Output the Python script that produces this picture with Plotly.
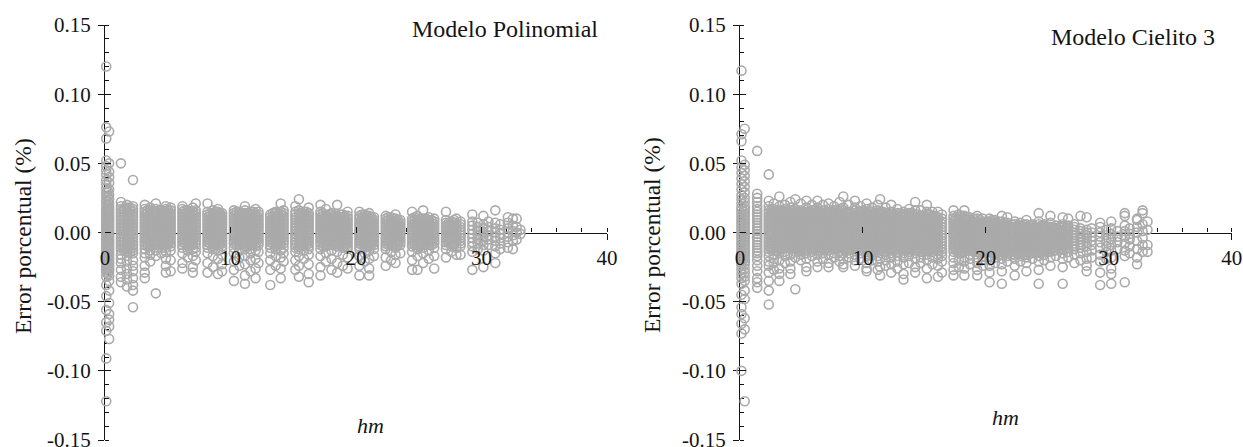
import plotly.graph_objects as go

# Percentage error of each sample, grouped in columns along hm.
# Error values are written in thousandths of a percent.
ERR_UNIT = 0.001

hm_poli = [0.1, 0.33, 1.27, 1.75, 2.23, 3.17, 3.6, 4.05, 4.5, 4.85, 5.23, 6.17, 6.6, 7.0, 7.23,
           8.17, 8.6, 9.0, 9.33, 10.27, 10.7, 11.15, 11.6, 12.0, 12.23, 13.17, 13.6, 14.0, 14.23,
           15.17, 15.45, 15.85, 16.23, 17.17, 17.6, 18.05, 18.5, 18.95, 19.33, 20.27, 20.7, 21.05,
           21.43, 22.37, 22.8, 23.15, 23.53, 24.47, 24.9, 25.35, 25.8, 26.23, 27.17, 27.6, 28.0,
           28.33, 29.27, 29.7, 30.15, 30.55, 31.1, 31.5, 32.1, 32.5, 32.8, 33.1,
           0.22, 1.5, 2.0, 3.38, 3.83, 4.28, 4.68, 5.04, 6.38, 6.8, 8.38, 8.8, 9.17, 10.48, 10.92,
           11.38, 11.8, 13.38, 13.8, 15.65, 16.04, 17.38, 17.82, 18.27, 18.72, 19.14, 20.48, 20.88,
           21.24, 22.58, 22.98, 23.34, 24.68, 25.12, 25.58, 26.02, 27.38, 27.8]

err_poli = [
    [120, 76, 68, 52, 48, 45, 42, 38, 35, 32, 29, 26, 23, 20, 17, 15, 13, 11, 9, 7, 5, 3, 1, -1, -3, -5, -7, -9, -11, -13, -15, -17, -19, -21, -23, -25, -27, -29, -32, -38, -46, -56, -65, -71, -91, -122],
    [73, 50, 44, 40, 36, 31, 27, 24, 21, 18, 16, 14, 12, 10, 8, 6, 4, 2, 0, -2, -4, -6, -8, -10, -12, -14, -16, -18, -20, -22, -24, -26, -28, -31, -35, -42, -51, -59, -63, -68, -77],
    [50, 22, 19, 17, 15, 13, 11, 9, 7, 5, 3, 1, -1, -3, -5, -7, -9, -11, -13, -16, -19, -22, -27, -32, -36],
    [20, 18, 16, 14, 12, 10, 8, 6, 4, 2, 0, -2, -4, -6, -8, -10, -12, -14, -17, -21, -26, -30, -34, -39],
    [38, 19, 17, 15, 13, 11, 9, 7, 5, 3, 1, -1, -3, -5, -7, -9, -11, -13, -15, -20, -24, -28, -33, -38, -42, -54],
    [20, 17, 15, 13, 11, 9, 7, 5, 3, 1, -1, -3, -5, -7, -9, -12, -15, -18, -24, -29, -33],
    [18, 16, 14, 12, 10, 8, 6, 4, 2, 0, -2, -4, -6, -8, -10, -13, -16, -21],
    [21, 17, 15, 13, 11, 9, 7, 5, 3, 1, -1, -3, -5, -7, -9, -13, -17, -44],
    [16, 14, 12, 10, 8, 6, 4, 2, 0, -2, -4, -6, -8, -11, -15],
    [19, 17, 15, 13, 11, 9, 7, 5, 3, 1, -1, -3, -5, -7, -9, -11, -14, -19, -24, -29],
    [18, 16, 14, 12, 10, 8, 6, 4, 2, 0, -2, -4, -6, -8, -10, -13, -20, -28],
    [19, 17, 15, 13, 11, 9, 7, 5, 3, 1, -1, -3, -5, -7, -9, -11, -15, -22, -26],
    [16, 14, 12, 10, 8, 6, 4, 2, 0, -2, -4, -6, -8, -10, -13, -18],
    [18, 15, 13, 11, 9, 7, 5, 3, 1, -1, -3, -5, -7, -9, -12, -17, -25, -29],
    [21, 16, 14, 12, 10, 8, 6, 4, 2, 0, -2, -4, -6, -8, -11, -14, -20],
    [21, 15, 13, 11, 9, 7, 5, 3, 1, -1, -3, -5, -7, -9, -11, -15, -22, -29],
    [16, 14, 12, 10, 8, 6, 4, 2, 0, -2, -4, -6, -8, -10, -12, -17, -25],
    [17, 15, 13, 11, 9, 7, 5, 3, 1, -1, -3, -5, -7, -9, -13, -19, -30],
    [14, 12, 10, 8, 6, 4, 2, 0, -2, -4, -6, -8, -10, -12, -16, -23, -28],
    [16, 14, 12, 10, 8, 6, 4, 2, 0, -2, -4, -6, -8, -11, -15, -21, -27, -35],
    [15, 13, 11, 9, 7, 5, 3, 1, -1, -3, -5, -7, -9, -13, -18, -24],
    [19, 16, 14, 12, 10, 8, 6, 4, 2, 0, -2, -4, -6, -8, -10, -12, -17, -23, -31, -37],
    [15, 13, 11, 9, 7, 5, 3, 1, -1, -3, -5, -7, -9, -12, -15, -20, -28],
    [17, 14, 12, 10, 8, 6, 4, 2, 0, -2, -4, -6, -8, -10, -13, -19, -26, -33],
    [15, 13, 11, 9, 7, 5, 3, 1, -1, -3, -5, -7, -9, -14, -22],
    [13, 11, 9, 7, 5, 3, 1, -1, -3, -5, -7, -9, -11, -15, -20, -27, -38],
    [15, 14, 12, 10, 8, 6, 4, 2, 0, -2, -4, -6, -8, -10, -12, -17, -24],
    [21, 15, 13, 11, 9, 7, 5, 3, 1, -1, -3, -5, -7, -9, -13, -18, -26, -33],
    [16, 14, 12, 10, 8, 6, 4, 2, 0, -2, -4, -6, -8, -11, -15, -21],
    [19, 15, 13, 11, 9, 7, 5, 3, 1, -1, -3, -5, -7, -9, -11, -14, -20, -27],
    [24, 16, 14, 12, 10, 8, 6, 4, 2, 0, -2, -4, -6, -8, -10, -12, -17, -24, -32],
    [15, 13, 11, 9, 7, 5, 3, 1, -1, -3, -5, -7, -9, -13, -19],
    [18, 14, 12, 10, 8, 6, 4, 2, 0, -2, -4, -6, -8, -10, -12, -16, -23, -30, -36],
    [20, 15, 13, 11, 9, 7, 5, 3, 1, -1, -3, -5, -7, -9, -12, -17, -25, -31],
    [17, 12, 10, 8, 6, 4, 2, 0, -2, -4, -6, -8, -10, -15, -21],
    [14, 13, 11, 9, 7, 5, 3, 1, -1, -3, -5, -7, -9, -13, -19, -27],
    [20, 12, 10, 8, 6, 4, 2, 0, -2, -4, -6, -8, -10, -14, -22, -29],
    [13, 11, 9, 7, 5, 3, 1, -1, -3, -5, -7, -9, -11, -16, -24],
    [15, 12, 10, 8, 6, 4, 2, 0, -2, -4, -6, -8, -10, -12, -18, -26],
    [15, 12, 10, 8, 6, 4, 2, 0, -2, -4, -6, -8, -10, -12, -17, -24, -31],
    [13, 11, 9, 7, 5, 3, 1, -1, -3, -5, -7, -9, -11, -15, -21],
    [14, 12, 10, 8, 6, 4, 2, 0, -2, -4, -6, -8, -10, -13, -19, -26, -31],
    [11, 9, 7, 5, 3, 1, -1, -3, -5, -7, -9, -12, -17],
    [12, 10, 8, 6, 4, 2, 0, -2, -4, -6, -8, -10, -12, -18, -24],
    [11, 9, 7, 5, 3, 1, -1, -3, -5, -7, -9, -14, -20],
    [13, 10, 8, 6, 4, 2, 0, -2, -4, -6, -8, -11, -16, -22],
    [9, 7, 5, 3, 1, -1, -3, -5, -7, -9, -15],
    [15, 10, 8, 6, 4, 2, 0, -2, -4, -6, -8, -10, -14, -20, -27],
    [12, 9, 7, 5, 3, 1, -1, -3, -5, -7, -9, -12, -17, -27],
    [16, 10, 8, 6, 4, 2, 0, -2, -4, -6, -8, -11, -15, -22],
    [11, 9, 7, 5, 3, 1, -1, -3, -5, -7, -9, -13, -19],
    [10, 8, 6, 4, 2, 0, -2, -4, -6, -8, -11, -17, -26],
    [15, 9, 7, 5, 3, 1, -1, -3, -5, -7, -9, -12, -18],
    [8, 6, 4, 2, 0, -2, -4, -6, -8, -10, -14],
    [10, 7, 5, 3, 1, -1, -3, -5, -7, -11, -16],
    [8, 6, 4, 2, 0, -2, -4, -6, -8, -10, -16],
    [13, 8, 5, 2, -1, -4, -7, -10, -14, -27],
    [7, 4, 1, -2, -5, -8, -12],
    [12, 6, 3, 0, -3, -6, -9, -13, -25],
    [8, 4, 1, -2, -5, -9],
    [16, 7, 3, 0, -3, -6, -10, -15, -22],
    [6, 2, -1, -4, -8, -12],
    [11, 7, 3, 0, -3, -7, -11],
    [10, 5, 1, -2, -6, -12],
    [10, 4, 0, -5],
    [2, -1],
    [30, 26, 22, 18, 14, 10, 6, 2, -2, -6, -10, -14, -18, -22, -26, -30],
    [17, 15, 13, 11, 9, 7, 5, 3, 1, -1, -3, -5, -7, -9, -11, -13],
    [18, 16, 14, 12, 10, 8, 6, 4, 2, 0, -2, -4, -6, -8, -10, -12, -14],
    [16, 14, 12, 10, 8, 6, 4, 2, 0, -2, -4, -6, -8, -10],
    [15, 13, 11, 9, 7, 5, 3, 1, -1, -3, -5, -7, -9],
    [16, 14, 12, 10, 8, 6, 4, 2, 0, -2, -4, -6, -8],
    [15, 13, 11, 9, 7, 5, 3, 1, -1, -3, -5, -7, -9],
    [16, 14, 12, 10, 8, 6, 4, 2, 0, -2, -4, -6, -8],
    [16, 14, 12, 10, 8, 6, 4, 2, 0, -2, -4, -6, -8],
    [15, 13, 11, 9, 7, 5, 3, 1, -1, -3, -5, -7, -9],
    [14, 12, 10, 8, 6, 4, 2, 0, -2, -4, -6, -8],
    [15, 13, 11, 9, 7, 5, 3, 1, -1, -3, -5, -7, -9],
    [14, 12, 10, 8, 6, 4, 2, 0, -2, -4, -6, -8],
    [15, 13, 11, 9, 7, 5, 3, 1, -1, -3, -5, -7, -9],
    [14, 12, 10, 8, 6, 4, 2, 0, -2, -4, -6, -8],
    [14, 12, 10, 8, 6, 4, 2, 0, -2, -4, -6, -8, -10],
    [15, 13, 11, 9, 7, 5, 3, 1, -1, -3, -5, -7, -9],
    [14, 12, 10, 8, 6, 4, 2, 0, -2, -4, -6, -8],
    [13, 11, 9, 7, 5, 3, 1, -1, -3, -5, -7, -9],
    [14, 12, 10, 8, 6, 4, 2, 0, -2, -4, -6, -8, -10],
    [15, 13, 11, 9, 7, 5, 3, 1, -1, -3, -5, -7, -9],
    [14, 12, 10, 8, 6, 4, 2, 0, -2, -4, -6, -8, -10],
    [13, 11, 9, 7, 5, 3, 1, -1, -3, -5, -7, -9],
    [12, 10, 8, 6, 4, 2, 0, -2, -4, -6, -8],
    [13, 11, 9, 7, 5, 3, 1, -1, -3, -5, -7, -9],
    [12, 10, 8, 6, 4, 2, 0, -2, -4, -6, -8, -10],
    [13, 11, 9, 7, 5, 3, 1, -1, -3, -5, -7, -9],
    [12, 10, 8, 6, 4, 2, 0, -2, -4, -6, -8, -10],
    [11, 9, 7, 5, 3, 1, -1, -3, -5, -7, -9],
    [11, 9, 7, 5, 3, 1, -1, -3, -5, -7, -9],
    [10, 8, 6, 4, 2, 0, -2, -4, -6, -8, -10],
    [9, 7, 5, 3, 1, -1, -3, -5, -7, -9],
    [11, 9, 7, 5, 3, 1, -1, -3, -5, -7, -9],
    [10, 8, 6, 4, 2, 0, -2, -4, -6, -8, -10],
    [10, 8, 6, 4, 2, 0, -2, -4, -6, -8],
    [9, 7, 5, 3, 1, -1, -3, -5, -7, -9],
    [7, 5, 3, 1, -1, -3, -5, -7],
    [9, 7, 5, 3, 1, -1, -3, -5, -7, -9],
]

hm_cielito = [0.12, 0.38, 1.4, 2.34, 2.75, 3.2, 3.65, 4.1, 4.5, 4.95, 5.4, 5.85, 6.3, 6.75, 7.2,
              7.65, 8.1, 8.4, 8.85, 9.35, 9.8, 10.3, 10.75, 11.2, 11.4, 11.85, 12.3, 12.8, 13.3,
              13.75, 14.25, 14.7, 15.2, 15.65, 16.1, 16.43, 17.37, 17.8, 18.25, 18.7, 19.3, 19.75,
              20.3, 20.75, 21.3, 21.75, 22.35, 22.8, 23.3, 23.8, 24.3, 24.75, 25.25, 25.7, 26.25,
              26.7, 27.2, 27.7, 28.2, 28.6, 29.3, 29.8, 30.2, 30.7, 31.3, 31.7, 32.3, 32.75, 33.15,
              2.55, 2.98, 3.43, 3.88, 4.3, 4.73, 5.18, 5.63, 6.08, 6.53, 6.98, 7.43, 7.88, 8.63,
              9.1, 9.58, 10.05, 10.53, 10.98, 11.63, 12.08, 12.55, 13.05, 13.53, 14.0, 14.48,
              14.95, 15.43, 15.88, 17.58, 18.02, 18.47, 19.0, 19.52, 20.02, 20.52, 21.02, 21.52,
              22.05, 22.58, 23.05, 23.55, 24.05, 24.52, 25.0, 25.48, 25.98, 26.48]

err_cielito = [
    [117, 71, 66, 52, 47, 43, 39, 35, 31, 27, 24, 21, 18, 16, 14, 12, 10, 8, 6, 4, 2, 0, -2, -4, -6, -8, -10, -12, -14, -16, -18, -20, -22, -24, -27, -30, -33, -37, -45, -54, -59, -66, -73, -100],
    [75, 49, 45, 41, 37, 33, 29, 25, 22, 19, 17, 15, 13, 11, 9, 7, 5, 3, 1, -1, -3, -5, -7, -9, -11, -13, -15, -17, -19, -21, -23, -26, -29, -32, -35, -42, -48, -62, -70, -122],
    [59, 28, 25, 22, 19, 17, 15, 13, 11, 9, 7, 5, 3, 1, -1, -3, -5, -7, -9, -11, -13, -15, -17, -20, -24, -28, -33, -36, -40],
    [42, 23, 19, 16, 14, 12, 10, 8, 6, 4, 2, 0, -2, -4, -6, -8, -10, -12, -14, -17, -21, -24, -29, -35, -42, -52],
    [21, 17, 15, 13, 11, 9, 7, 5, 3, 1, -1, -3, -5, -7, -9, -11, -13, -16, -19, -22, -27],
    [26, 19, 16, 14, 12, 10, 8, 6, 4, 2, 0, -2, -4, -6, -8, -10, -12, -15, -20, -26, -30, -35],
    [20, 17, 15, 13, 11, 9, 7, 5, 3, 1, -1, -3, -5, -7, -9, -11, -14, -17, -22],
    [22, 18, 16, 14, 12, 10, 8, 6, 4, 2, 0, -2, -4, -6, -8, -10, -12, -16, -21, -26, -30],
    [24, 17, 15, 13, 11, 9, 7, 5, 3, 1, -1, -3, -5, -7, -9, -11, -14, -18, -41],
    [21, 16, 14, 12, 10, 8, 6, 4, 2, 0, -2, -4, -6, -8, -10, -12, -16, -20],
    [23, 18, 15, 13, 11, 9, 7, 5, 3, 1, -1, -3, -5, -7, -9, -11, -13, -15, -19, -25, -28],
    [20, 16, 14, 12, 10, 8, 6, 4, 2, 0, -2, -4, -6, -8, -10, -12, -14, -17],
    [23, 18, 15, 13, 11, 9, 7, 5, 3, 1, -1, -3, -5, -7, -9, -11, -13, -16, -21, -25],
    [20, 16, 14, 12, 10, 8, 6, 4, 2, 0, -2, -4, -6, -8, -10, -12, -15, -19],
    [21, 17, 15, 13, 11, 9, 7, 5, 3, 1, -1, -3, -5, -7, -9, -11, -13, -16, -22, -25],
    [19, 16, 14, 12, 10, 8, 6, 4, 2, 0, -2, -4, -6, -8, -10, -12, -15, -18],
    [22, 17, 15, 13, 11, 9, 7, 5, 3, 1, -1, -3, -5, -7, -9, -11, -14, -17, -21],
    [26, 18, 16, 14, 12, 10, 8, 6, 4, 2, 0, -2, -4, -6, -8, -10, -12, -15, -19, -23, -25],
    [20, 15, 13, 11, 9, 7, 5, 3, 1, -1, -3, -5, -7, -9, -11, -13, -15, -18],
    [23, 18, 16, 14, 12, 10, 8, 6, 4, 2, 0, -2, -4, -6, -8, -10, -12, -16, -20, -24],
    [19, 15, 13, 11, 9, 7, 5, 3, 1, -1, -3, -5, -7, -9, -11, -13, -15, -19],
    [21, 17, 14, 12, 10, 8, 6, 4, 2, 0, -2, -4, -6, -8, -10, -12, -14, -17, -22, -26, -28],
    [18, 15, 13, 11, 9, 7, 5, 3, 1, -1, -3, -5, -7, -9, -11, -13, -16, -20],
    [20, 16, 14, 12, 10, 8, 6, 4, 2, 0, -2, -4, -6, -8, -10, -12, -14, -17, -21, -27],
    [24, 15, 13, 11, 9, 7, 5, 3, 1, -1, -3, -5, -7, -9, -11, -13, -15, -19, -25, -31],
    [18, 14, 12, 10, 8, 6, 4, 2, 0, -2, -4, -6, -8, -10, -12, -14, -16, -20, -24],
    [20, 15, 13, 11, 9, 7, 5, 3, 1, -1, -3, -5, -7, -9, -11, -13, -15, -18, -23, -29],
    [17, 14, 12, 10, 8, 6, 4, 2, 0, -2, -4, -6, -8, -10, -12, -14, -17, -21, -26],
    [15, 13, 11, 9, 7, 5, 3, 1, -1, -3, -5, -7, -9, -11, -13, -15, -18, -23, -30, -34],
    [17, 14, 12, 10, 8, 6, 4, 2, 0, -2, -4, -6, -8, -10, -12, -14, -17, -22],
    [22, 16, 13, 11, 9, 7, 5, 3, 1, -1, -3, -5, -7, -9, -11, -13, -15, -19, -25, -29],
    [16, 12, 10, 8, 6, 4, 2, 0, -2, -4, -6, -8, -10, -12, -14, -18, -22],
    [20, 15, 13, 11, 9, 7, 5, 3, 1, -1, -3, -5, -7, -9, -11, -13, -16, -20, -26, -33],
    [15, 12, 10, 8, 6, 4, 2, 0, -2, -4, -6, -8, -10, -12, -14, -18, -23],
    [15, 11, 9, 7, 5, 3, 1, -1, -3, -5, -7, -9, -11, -13, -16, -19, -24, -32],
    [13, 10, 8, 6, 4, 2, 0, -2, -4, -6, -8, -10, -12, -14, -17, -21, -29],
    [16, 12, 10, 8, 6, 4, 2, 0, -2, -4, -6, -8, -10, -12, -14, -18, -22, -27, -31],
    [13, 9, 7, 5, 3, 1, -1, -3, -5, -7, -9, -11, -13, -15, -20, -25],
    [16, 12, 10, 8, 6, 4, 2, 0, -2, -4, -6, -8, -10, -12, -14, -18, -21, -26, -31],
    [11, 9, 7, 5, 3, 1, -1, -3, -5, -7, -9, -11, -13, -16, -19, -23],
    [12, 10, 8, 6, 4, 2, 0, -2, -4, -6, -8, -10, -12, -14, -18, -22, -27, -31],
    [10, 7, 5, 3, 1, -1, -3, -5, -7, -9, -11, -13, -15, -17, -20, -24],
    [10, 8, 6, 4, 2, 0, -2, -4, -6, -8, -10, -12, -14, -17, -20, -24, -29, -36],
    [9, 7, 5, 3, 1, -1, -3, -5, -7, -9, -11, -13, -15, -18, -22],
    [12, 8, 6, 4, 2, 0, -2, -4, -6, -8, -10, -12, -14, -16, -19, -23, -28, -37],
    [11, 7, 5, 3, 1, -1, -3, -5, -7, -9, -11, -13, -15, -17, -21],
    [8, 6, 4, 2, 0, -2, -4, -6, -8, -10, -12, -14, -16, -19, -24, -31],
    [7, 5, 3, 1, -1, -3, -5, -7, -9, -11, -13, -15, -17, -21],
    [9, 6, 4, 2, 0, -2, -4, -6, -8, -10, -12, -14, -16, -18, -22, -28],
    [6, 5, 3, 1, -1, -3, -5, -7, -9, -11, -13, -15, -19],
    [14, 8, 6, 4, 2, 0, -2, -4, -6, -8, -10, -12, -14, -17, -21, -27, -37],
    [6, 5, 3, 1, -1, -3, -5, -7, -9, -11, -13, -16, -20],
    [12, 7, 4, 2, 0, -2, -4, -6, -8, -10, -12, -14, -18, -24],
    [5, 3, 1, -1, -3, -5, -7, -9, -11, -13, -17],
    [11, 6, 4, 2, 0, -2, -4, -6, -8, -10, -12, -15, -19, -25, -37],
    [10, 5, 3, 1, -1, -3, -5, -7, -9, -11, -14, -18],
    [6, 4, 2, 0, -2, -4, -6, -8, -10, -12, -16, -22],
    [12, 3, 1, -1, -3, -5, -7, -9, -11, -15, -20],
    [11, 2, 0, -2, -4, -7, -10, -14, -19, -24, -28],
    [3, 0, -3, -6, -9, -13, -18],
    [7, 4, 0, -3, -7, -11, -16, -21, -29, -38],
    [2, -2, -6, -10, -14, -19],
    [8, 3, -1, -5, -9, -13, -18, -26, -30, -37],
    [1, -3, -7, -12],
    [14, 12, 5, 1, -3, -8, -13, -17, -36],
    [3, -1, -5, -10, -15],
    [10, 9, 4, 0, -6, -12, -18, -23],
    [16, 14, 6, 1, -4, -9, -14],
    [8, 2, -9, -14],
    [16, 14, 12, 10, 8, 6, 4, 2, 0, -2, -4, -6, -8, -10, -12],
    [15, 13, 11, 9, 7, 5, 3, 1, -1, -3, -5, -7, -9, -11, -13],
    [16, 14, 12, 10, 8, 6, 4, 2, 0, -2, -4, -6, -8, -10, -12],
    [15, 13, 11, 9, 7, 5, 3, 1, -1, -3, -5, -7, -9, -11],
    [16, 14, 12, 10, 8, 6, 4, 2, 0, -2, -4, -6, -8, -10, -12],
    [15, 13, 11, 9, 7, 5, 3, 1, -1, -3, -5, -7, -9, -11, -13],
    [14, 12, 10, 8, 6, 4, 2, 0, -2, -4, -6, -8, -10, -12],
    [15, 13, 11, 9, 7, 5, 3, 1, -1, -3, -5, -7, -9, -11],
    [16, 14, 12, 10, 8, 6, 4, 2, 0, -2, -4, -6, -8, -10, -12],
    [15, 13, 11, 9, 7, 5, 3, 1, -1, -3, -5, -7, -9, -11, -13],
    [14, 12, 10, 8, 6, 4, 2, 0, -2, -4, -6, -8, -10, -12],
    [15, 13, 11, 9, 7, 5, 3, 1, -1, -3, -5, -7, -9, -11],
    [16, 14, 12, 10, 8, 6, 4, 2, 0, -2, -4, -6, -8, -10, -12],
    [15, 13, 11, 9, 7, 5, 3, 1, -1, -3, -5, -7, -9, -11, -13],
    [14, 12, 10, 8, 6, 4, 2, 0, -2, -4, -6, -8, -10, -12],
    [15, 13, 11, 9, 7, 5, 3, 1, -1, -3, -5, -7, -9, -11],
    [16, 14, 12, 10, 8, 6, 4, 2, 0, -2, -4, -6, -8, -10, -12],
    [15, 13, 11, 9, 7, 5, 3, 1, -1, -3, -5, -7, -9, -11, -13],
    [14, 12, 10, 8, 6, 4, 2, 0, -2, -4, -6, -8, -10, -12],
    [15, 13, 11, 9, 7, 5, 3, 1, -1, -3, -5, -7, -9, -11],
    [14, 12, 10, 8, 6, 4, 2, 0, -2, -4, -6, -8, -10, -12],
    [13, 11, 9, 7, 5, 3, 1, -1, -3, -5, -7, -9, -11, -13],
    [14, 12, 10, 8, 6, 4, 2, 0, -2, -4, -6, -8, -10, -12],
    [13, 11, 9, 7, 5, 3, 1, -1, -3, -5, -7, -9, -11, -13],
    [14, 12, 10, 8, 6, 4, 2, 0, -2, -4, -6, -8, -10, -12],
    [13, 11, 9, 7, 5, 3, 1, -1, -3, -5, -7, -9, -11, -13],
    [12, 10, 8, 6, 4, 2, 0, -2, -4, -6, -8, -10, -12, -14],
    [13, 11, 9, 7, 5, 3, 1, -1, -3, -5, -7, -9, -11, -13],
    [12, 10, 8, 6, 4, 2, 0, -2, -4, -6, -8, -10, -12],
    [11, 9, 7, 5, 3, 1, -1, -3, -5, -7, -9, -11, -13],
    [12, 10, 8, 6, 4, 2, 0, -2, -4, -6, -8, -10, -12, -14],
    [11, 9, 7, 5, 3, 1, -1, -3, -5, -7, -9, -11, -13],
    [10, 8, 6, 4, 2, 0, -2, -4, -6, -8, -10, -12, -14],
    [9, 7, 5, 3, 1, -1, -3, -5, -7, -9, -11, -13, -15],
    [8, 6, 4, 2, 0, -2, -4, -6, -8, -10, -12, -14],
    [9, 7, 5, 3, 1, -1, -3, -5, -7, -9, -11, -13, -15],
    [8, 6, 4, 2, 0, -2, -4, -6, -8, -10, -12, -14, -16],
    [7, 5, 3, 1, -1, -3, -5, -7, -9, -11, -13, -15],
    [6, 4, 2, 0, -2, -4, -6, -8, -10, -12, -14, -16],
    [5, 3, 1, -1, -3, -5, -7, -9, -11, -13, -15],
    [6, 4, 2, 0, -2, -4, -6, -8, -10, -12, -14, -16],
    [5, 3, 1, -1, -3, -5, -7, -9, -11, -13, -15],
    [4, 2, 0, -2, -4, -6, -8, -10, -12, -14],
    [5, 3, 1, -1, -3, -5, -7, -9, -11, -13, -15],
    [4, 2, 0, -2, -4, -6, -8, -10, -12, -14],
    [3, 1, -1, -3, -5, -7, -9, -11, -13],
    [4, 2, 0, -2, -4, -6, -8, -10, -12],
    [3, 1, -1, -3, -5, -7, -9, -11],
]

panel_titles = ["Modelo Polinomial", "Modelo Cielito 3"]
x_title = "<i>hm</i>"
y_title = "Error porcentual (%)"
x_tickvals = [0, 10, 20, 30, 40]
x_ticktext = ["0", "10", "20", "30", "40"]
y_tickvals = [-0.15, -0.10, -0.05, 0.0, 0.05, 0.10, 0.15]
y_ticktext = ["-0.15", "-0.10", "-0.05", "0.00", "0.05", "0.10", "0.15"]

W, H = 1243, 447
FONT = "Liberation Serif, Times New Roman, serif"
INK = "#141414"
MARK = "#aaaaaa"


def fx(px):
    return px / W


def fy(px):
    return 1 - px / H


Y_DOMAIN = [fy(440), fy(25)]
X_AXIS_POS = (Y_DOMAIN[0] + Y_DOMAIN[1]) / 2

panels = [
    dict(hm=hm_poli, err=err_poli, dom=[fx(105), fx(607)],
         title=(fx(600), fy(29)), xlab=(fx(370), fy(425)), ylab=(fx(23), fy(236))),
    dict(hm=hm_cielito, err=err_cielito, dom=[fx(740), fx(1231.7)],
         title=(fx(1217), fy(37)), xlab=(fx(1005), fy(417)), ylab=(fx(652), fy(235))),
]

fig = go.Figure()
layout = {}
annotations = []
line_w = 1.3

for i, p in enumerate(panels):
    main = "" if i == 0 else "2"
    over = str(3 + i)
    xs = [h for h, col in zip(p["hm"], p["err"], strict=True) for _ in col]
    ys = [v * ERR_UNIT for col in p["err"] for v in col]
    fig.add_trace(go.Scatter(
        x=xs, y=ys, mode="markers", xaxis="x" + main, yaxis="y" + main,
        marker=dict(symbol="circle-open", size=9, color=MARK, line=dict(width=1.6, color=MARK)),
        cliponaxis=False, hoverinfo="skip", showlegend=False))
    # empty trace on the overlay axes that carry the upper tick halves and x labels
    fig.add_trace(go.Scatter(x=[], y=[], xaxis="x" + over, yaxis="y" + over,
                             mode="markers", showlegend=False, hoverinfo="skip"))

    tickfont = dict(family=FONT, size=21, color=INK)
    layout["xaxis" + main] = dict(
        range=[0, 40], domain=p["dom"], anchor="free", position=X_AXIS_POS,
        showline=True, linecolor=INK, linewidth=line_w, layer="below traces",
        ticks="outside", ticklen=6, tickwidth=line_w, tickcolor=INK,
        tickmode="array", tickvals=x_tickvals, showticklabels=False,
        minor=dict(ticks="inside", ticklen=4, tickwidth=line_w, tickcolor=INK,
                   tick0=0, dtick=2, showgrid=False),
        showgrid=False, zeroline=False, fixedrange=True, automargin=False)
    layout["yaxis" + main] = dict(
        range=[-0.15, 0.15], domain=Y_DOMAIN, anchor="x" + main,
        showline=True, linecolor=INK, linewidth=line_w, layer="below traces",
        ticks="outside", ticklen=6, tickwidth=line_w, tickcolor=INK,
        tickmode="array", tickvals=y_tickvals, ticktext=y_ticktext,
        tickfont=tickfont, ticklabelstandoff=3, ticklabeloverflow="allow",
        minor=dict(ticks="inside", ticklen=4, tickwidth=line_w, tickcolor=INK,
                   tick0=0, dtick=0.01, showgrid=False),
        showgrid=False, zeroline=False, fixedrange=True, automargin=False)
    layout["xaxis" + over] = dict(
        range=[0, 40], domain=p["dom"], anchor="free", position=X_AXIS_POS,
        overlaying="x" + main, showline=False,
        ticks="inside", ticklen=6, tickwidth=line_w, tickcolor=INK,
        tickmode="array", tickvals=x_tickvals, ticktext=x_ticktext,
        tickfont=tickfont, ticklabelstandoff=10,
        showgrid=False, zeroline=False, fixedrange=True, automargin=False)
    layout["yaxis" + over] = dict(
        range=[-0.15, 0.15], domain=Y_DOMAIN, anchor="x" + over,
        overlaying="y" + main, showline=False,
        ticks="inside", ticklen=6, tickwidth=line_w, tickcolor=INK,
        tickmode="array", tickvals=y_tickvals, showticklabels=False,
        showgrid=False, zeroline=False, fixedrange=True, automargin=False)

    annotations += [
        dict(text=panel_titles[i], x=p["title"][0], y=p["title"][1], xref="paper", yref="paper",
             xanchor="right", yanchor="middle", showarrow=False,
             font=dict(family=FONT, size=24, color=INK)),
        dict(text=x_title, x=p["xlab"][0], y=p["xlab"][1], xref="paper", yref="paper",
             xanchor="center", yanchor="middle", showarrow=False,
             font=dict(family=FONT, size=22, color=INK)),
        dict(text=y_title, x=p["ylab"][0], y=p["ylab"][1], xref="paper", yref="paper",
             xanchor="center", yanchor="middle", textangle=-90, showarrow=False,
             font=dict(family=FONT, size=23.5, color=INK)),
    ]

fig.update_layout(
    template="none",
    width=W, height=H, margin=dict(l=0, r=0, t=0, b=0, pad=0, autoexpand=False),
    paper_bgcolor="white", plot_bgcolor="rgba(0,0,0,0)",
    showlegend=False, annotations=annotations, **layout)

fig.write_html("out.html")
